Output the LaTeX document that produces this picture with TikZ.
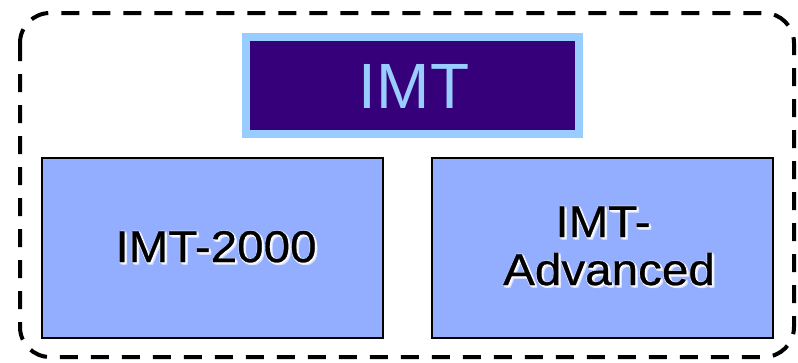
\documentclass[tikz,border=0pt]{standalone}
\usepackage{fontspec}
\setmainfont{Liberation Sans}
\newfontfamily\labelfont[FakeBold=0.6]{Liberation Sans}
\definecolor{imtpurple}{HTML}{35007A}
\definecolor{imtlight}{HTML}{99CCFF}
\definecolor{boxfill}{HTML}{93AEFF}
% black label with a soft white halo behind it, placed by its baseline
\newcommand{\haloLabel}[3]{%
  \foreach \dx/\dy in {1.5/1.5,2.2/0.6,0.6/2.2,2.6/2.6,-0.6/0.6,0.6/-0.6} {
    \node[labeltext,text=white,opacity=0.55] at ([shift={(\dx,\dy)}]#2) {#3};
  }
  \node[labeltext] (#1) at (#2) {#3};
}
\begin{document}
\begin{tikzpicture}[x=1pt,y=-1pt,
  outerframe/.style={draw=black,line width=4pt,dash pattern=on 18pt off 13pt,rounded corners=30pt},
  titlebox/.style={draw=imtlight,line width=8pt,fill=imtpurple,minimum width=333pt,
    minimum height=97pt,inner sep=0pt},
  titletext/.style={text=imtlight,inner sep=0pt,anchor=base,font=\fontsize{64}{70}\selectfont},
  genbox/.style={draw=black,line width=2pt,fill=boxfill,minimum width=341pt,minimum height=180pt,
    inner sep=0pt},
  labeltext/.style={inner sep=0pt,anchor=base,text=black,xscale=1.07,
    font=\labelfont\fontsize{44.5}{50}\selectfont}]
  \useasboundingbox (0,0) rectangle (798,362);
  \draw[outerframe] (20,13) rectangle (794,357);
  \node[titlebox] (imt) at (412.5,85.5) {};
  \node[titletext] (imtlabel) at (414,108) {IMT};
  \node[genbox] (g2000) at (212.5,248) {};
  \node[genbox] (gadv) at (602.5,248) {};
  \haloLabel{t2000}{216,262}{IMT-2000}
  \haloLabel{tadv1}{603,237}{IMT-}
  \haloLabel{tadv2}{609,285}{Advanced}
\end{tikzpicture}
\end{document}
